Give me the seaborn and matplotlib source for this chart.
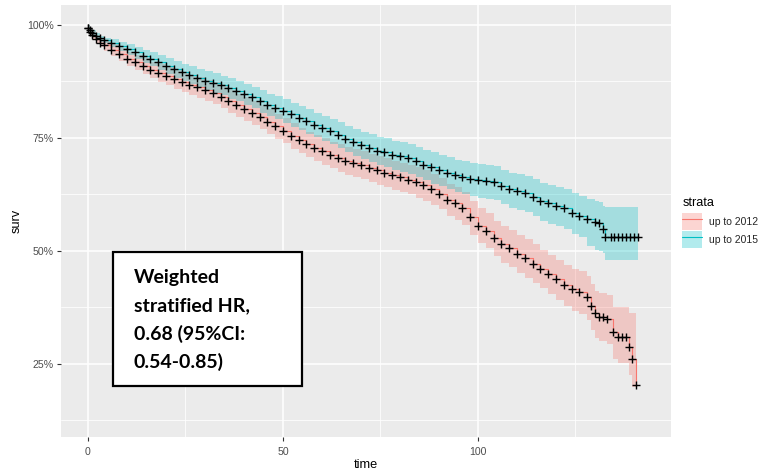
import numpy as np
import pandas as pd
import matplotlib
matplotlib.use("Agg")
import matplotlib.pyplot as plt
import seaborn as sns
from matplotlib.patches import Patch, Rectangle
from matplotlib.lines import Line2D
from matplotlib.ticker import FixedLocator, FuncFormatter

# ---------------- data ----------------
strata_labels = ["up to 2012", "up to 2015"]
strata_colors = ["#F8766D", "#00BFC4"]

time_2015 = [0, 0.5, 1, 2, 3, 4, 6, 8, 10, 12, 14, 16, 18, 20, 22, 24, 26, 28, 30, 32,
             34, 36, 38, 40, 42, 44, 46, 48, 50, 52, 54, 56, 58, 60, 62, 64, 66, 68, 70, 72,
             74, 76, 78, 80, 82, 84, 86, 88, 90, 92, 94, 96, 98, 100, 102, 104, 106, 108, 110, 112,
             114, 116, 118, 120, 122, 124, 126, 128, 130, 131, 132, 132.6, 134, 135, 136, 137, 138, 139, 140, 141]
surv_2015 = [0.993, 0.988, 0.983, 0.976, 0.970, 0.966, 0.961, 0.953, 0.946, 0.939, 0.931, 0.924, 0.917, 0.910, 0.902, 0.895, 0.889, 0.883, 0.877, 0.872,
             0.866, 0.860, 0.854, 0.847, 0.840, 0.831, 0.823, 0.817, 0.810, 0.802, 0.794, 0.787, 0.779, 0.772, 0.765, 0.757, 0.748, 0.741, 0.735, 0.728,
             0.722, 0.718, 0.713, 0.709, 0.705, 0.698, 0.691, 0.685, 0.679, 0.673, 0.668, 0.664, 0.660, 0.657, 0.655, 0.652, 0.643, 0.636, 0.632, 0.628,
             0.620, 0.611, 0.605, 0.600, 0.594, 0.585, 0.578, 0.570, 0.564, 0.562, 0.549, 0.531, 0.531, 0.531, 0.531, 0.531, 0.531, 0.531, 0.531, 0.531]
upper_2015 = [0.999, 0.994, 0.989, 0.982, 0.976, 0.972, 0.969, 0.963, 0.958, 0.952, 0.945, 0.939, 0.933, 0.927, 0.920, 0.914, 0.908, 0.903, 0.897, 0.893,
              0.887, 0.882, 0.876, 0.870, 0.863, 0.855, 0.847, 0.842, 0.835, 0.827, 0.820, 0.813, 0.806, 0.799, 0.792, 0.785, 0.776, 0.770, 0.764, 0.758,
              0.752, 0.749, 0.744, 0.740, 0.737, 0.730, 0.724, 0.718, 0.712, 0.707, 0.702, 0.699, 0.695, 0.692, 0.691, 0.688, 0.680, 0.673, 0.670, 0.666,
              0.659, 0.651, 0.645, 0.641, 0.636, 0.628, 0.622, 0.615, 0.610, 0.608, 0.599, 0.597, 0.597, 0.597, 0.597, 0.597, 0.597, 0.597, 0.597, 0.597]
lower_2015 = [0.986, 0.981, 0.976, 0.969, 0.963, 0.959, 0.952, 0.942, 0.933, 0.925, 0.916, 0.908, 0.900, 0.892, 0.883, 0.875, 0.869, 0.862, 0.856, 0.850,
              0.844, 0.837, 0.831, 0.823, 0.816, 0.806, 0.798, 0.791, 0.784, 0.775, 0.767, 0.759, 0.751, 0.743, 0.736, 0.727, 0.718, 0.710, 0.704, 0.696,
              0.690, 0.685, 0.680, 0.675, 0.671, 0.663, 0.656, 0.649, 0.643, 0.636, 0.631, 0.626, 0.622, 0.618, 0.616, 0.612, 0.603, 0.595, 0.590, 0.586,
              0.577, 0.567, 0.560, 0.555, 0.548, 0.538, 0.530, 0.510, 0.502, 0.500, 0.495, 0.481, 0.481, 0.481, 0.481, 0.481, 0.481, 0.481, 0.481, 0.481]

time_2012 = [0, 0.5, 1, 2, 3, 4, 6, 8, 10, 12, 14, 16, 18, 20, 22, 24, 26, 28, 30, 32,
             34, 36, 38, 40, 42, 44, 46, 48, 50, 52, 54, 56, 58, 60, 62, 64, 66, 68, 70, 72,
             74, 76, 78, 80, 82, 84, 86, 88, 90, 92, 94, 96, 98, 100, 102, 104, 106, 108, 110, 112,
             114, 116, 118, 120, 122, 124, 126, 128, 129, 130, 131, 132, 133, 134.7, 136, 137, 138, 138.8, 139.5, 140.5]
surv_2012 = [0.993, 0.985, 0.978, 0.968, 0.961, 0.955, 0.944, 0.935, 0.925, 0.917, 0.909, 0.901, 0.894, 0.887, 0.880, 0.873, 0.868, 0.862, 0.856, 0.850,
             0.841, 0.832, 0.823, 0.814, 0.806, 0.796, 0.786, 0.776, 0.766, 0.755, 0.745, 0.736, 0.728, 0.720, 0.713, 0.706, 0.700, 0.695, 0.690, 0.684,
             0.678, 0.673, 0.668, 0.663, 0.658, 0.652, 0.645, 0.637, 0.627, 0.613, 0.605, 0.594, 0.574, 0.556, 0.545, 0.528, 0.515, 0.506, 0.494, 0.484,
             0.472, 0.460, 0.449, 0.437, 0.425, 0.415, 0.409, 0.398, 0.378, 0.362, 0.355, 0.355, 0.350, 0.320, 0.310, 0.310, 0.310, 0.288, 0.261, 0.204]
upper_2012 = [0.999, 0.993, 0.987, 0.978, 0.972, 0.966, 0.957, 0.949, 0.940, 0.933, 0.926, 0.919, 0.913, 0.906, 0.900, 0.894, 0.889, 0.884, 0.879, 0.873,
              0.865, 0.857, 0.848, 0.840, 0.832, 0.822, 0.813, 0.803, 0.793, 0.783, 0.773, 0.764, 0.757, 0.749, 0.742, 0.736, 0.730, 0.725, 0.720, 0.714,
              0.709, 0.705, 0.700, 0.695, 0.690, 0.685, 0.678, 0.671, 0.661, 0.648, 0.641, 0.630, 0.611, 0.594, 0.583, 0.567, 0.555, 0.546, 0.535, 0.526,
              0.515, 0.503, 0.492, 0.480, 0.469, 0.460, 0.455, 0.445, 0.427, 0.412, 0.406, 0.406, 0.402, 0.376, 0.376, 0.376, 0.376, 0.363, 0.363, 0.363]
lower_2012 = [0.986, 0.977, 0.969, 0.958, 0.950, 0.943, 0.931, 0.920, 0.909, 0.900, 0.891, 0.882, 0.874, 0.867, 0.859, 0.851, 0.845, 0.838, 0.832, 0.826,
              0.816, 0.806, 0.797, 0.787, 0.779, 0.769, 0.758, 0.748, 0.738, 0.726, 0.716, 0.707, 0.698, 0.690, 0.683, 0.675, 0.669, 0.664, 0.659, 0.652,
              0.646, 0.641, 0.635, 0.630, 0.625, 0.618, 0.611, 0.602, 0.592, 0.577, 0.568, 0.557, 0.536, 0.517, 0.506, 0.488, 0.474, 0.465, 0.452, 0.441,
              0.430, 0.417, 0.404, 0.392, 0.379, 0.368, 0.360, 0.347, 0.326, 0.308, 0.300, 0.300, 0.294, 0.260, 0.252, 0.252, 0.252, 0.226, 0.198, 0.190]

x_ticks = [0, 50, 100, 150]
y_ticks = [0.25, 0.50, 0.75, 1.00]
annotation_lines = ["Weighted", "stratified HR,", "0.68 (95%CI:", "0.54-0.85)"]

# ---------------- build tables ----------------
df = pd.concat([
    pd.DataFrame({"time": time_2012, "surv": surv_2012, "lower": lower_2012,
                  "upper": upper_2012, "strata": strata_labels[0]}),
    pd.DataFrame({"time": time_2015, "surv": surv_2015, "lower": lower_2015,
                  "upper": upper_2015, "strata": strata_labels[1]}),
], ignore_index=True)
palette = dict(zip(strata_labels, strata_colors))

# ---------------- style ----------------
sns.set_theme(style="darkgrid")
plt.rcParams["font.family"] = ["Liberation Sans", "DejaVu Sans"]
plt.rcParams["axes.facecolor"] = "#EBEBEB"

fig = plt.figure(figsize=(7.74, 4.76), dpi=100)
ax = fig.add_axes([61 / 774, 1 - 437 / 476, 610 / 774, 432 / 476])
ax.set_facecolor("#EBEBEB")

# confidence bands
for lab in strata_labels:
    d = df[df["strata"] == lab]
    ax.fill_between(d["time"], d["lower"], d["upper"], step="post",
                    color=palette[lab], alpha=0.3, linewidth=0, zorder=2)

# survival curves
sns.lineplot(data=df, x="time", y="surv", hue="strata", palette=palette,
             drawstyle="steps-post", estimator=None, sort=True, legend=False,
             linewidth=0.8, ax=ax, zorder=3)

# censor marks
sns.scatterplot(data=df, x="time", y="surv", marker="+", color="black",
                s=34, linewidth=1.0, legend=False, ax=ax, zorder=4)

# axes limits/ticks
ax.set_xlim(-6.92, 149.5)
ax.set_ylim(0.0885, 1.044)
ax.xaxis.set_major_locator(FixedLocator(x_ticks))
ax.xaxis.set_minor_locator(FixedLocator([25, 75, 125]))
ax.yaxis.set_major_locator(FixedLocator(y_ticks))
ax.yaxis.set_minor_locator(FixedLocator([0.125, 0.375, 0.625, 0.875]))
ax.yaxis.set_major_formatter(FuncFormatter(lambda v, p: f"{v*100:.0f}%"))
ax.grid(which="major", color="white", linewidth=1.1)
ax.grid(which="minor", color="white", linewidth=0.55)
ax.set_axisbelow(True)
for s in ax.spines.values():
    s.set_visible(False)
ax.tick_params(which="major", length=3, width=0.8, color="#333333",
               labelsize=7.6, labelcolor="#4D4D4D", pad=2,
               bottom=True, left=True)
ax.tick_params(axis="x", which="major", pad=4)
ax.tick_params(which="minor", length=0)
ax.set_xlabel("time", fontsize=9.2, color="black", labelpad=2)
ax.set_ylabel("surv", fontsize=9.2, color="black", labelpad=3)

# legend (title drawn separately so the gap matches ggplot)
fig.text(683 / 774, 1 - 203 / 476, "strata", ha="left", va="center",
         fontsize=9.2, color="black")
handles = []
for lab in strata_labels:
    handles.append((Patch(facecolor=palette[lab], alpha=0.3, edgecolor="none"),
                    Line2D([0], [0], color=palette[lab], linewidth=0.8)))
leg = fig.legend(handles, strata_labels, loc="upper left",
                 bbox_to_anchor=(682 / 774, 1 - 213 / 476), frameon=False,
                 fontsize=7.5, handlelength=1.9,
                 handleheight=2.2, labelspacing=0.05, handletextpad=0.7,
                 borderpad=0, borderaxespad=0)

# annotation box
fig.patches.append(Rectangle((113 / 774, 1 - 386 / 476), 189 / 774, 134 / 476,
                             transform=fig.transFigure, facecolor="white",
                             edgecolor="black", linewidth=1.6, zorder=10))
line_y = [278, 306, 334, 362]
for txt, yy in zip(annotation_lines, line_y):
    fig.text(134 / 774, 1 - yy / 476, txt, ha="left", va="center",
             fontsize=14, fontweight="bold", family=["Lato", "DejaVu Sans"],
             color="black", zorder=11)

fig.savefig("out.png", dpi=100)
